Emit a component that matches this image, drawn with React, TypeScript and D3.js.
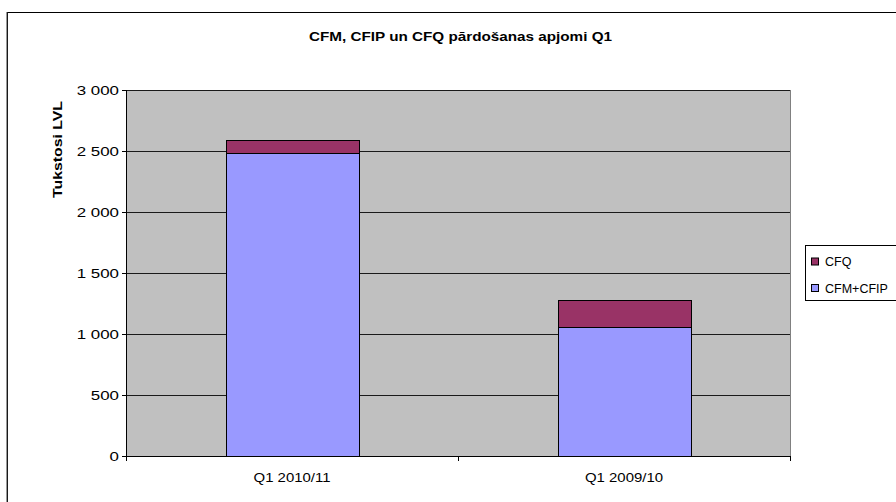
import React from 'react';
import * as d3 from 'd3';

const categories = ['Q1 2010/11', 'Q1 2009/10'];
const cfmCfip = [2485, 1055];
const cfq = [105, 222];
const yTicks = [0, 500, 1000, 1500, 2000, 2500, 3000];
const seriesNames = ['CFM+CFIP', 'CFQ'];
const seriesColors = ['#9999FF', '#993366'];

const width = 896,
    height = 502;
const plot = { left: 126, right: 790, top: 90, bottom: 456 };

const fmt = (v: number) => d3.format(',')(v).replace(/,/g, ' ');

const App = () => {
    const x = d3.scaleBand<string>()
        .domain(categories)
        .range([plot.left, plot.right])
        .paddingInner(0.6)
        .paddingOuter(0.3);

    const y = d3.scaleLinear()
        .domain([0, 3000])
        .range([plot.bottom, plot.top]);

    const rows = categories.map((c, i) => ({ cat: c, 'CFM+CFIP': cfmCfip[i], CFQ: cfq[i] }));
    const stacked = d3.stack<any>().keys(seriesNames)(rows);

    const step = x.step();
    const xTicks = [plot.left, plot.left + step, plot.right];
    const py = (v: number) => Math.round(y(v)) + 0.5;

    return (
        <svg width={width} height={height} style={{ position: 'absolute', left: 0, top: 0 }}
            fontFamily="'Liberation Sans', Arial, sans-serif">
            <rect x={0} y={0} width={width} height={height} fill="#fff" />
            <rect x={7.5} y={12.5} width={width} height={height} fill="none" stroke="#000" strokeWidth={1} />
            <line x1={7} x2={7} y1={12} y2={height} stroke="#333" strokeWidth={1} />
            <text x={460.5} y={41} textAnchor="middle" fontSize={13} fontWeight="bold"
                textLength={303} lengthAdjust="spacingAndGlyphs">
                CFM, CFIP un CFQ pārdošanas apjomi Q1
            </text>

            <rect x={plot.left + 0.5} y={plot.top + 0.5} width={plot.right - plot.left} height={plot.bottom - plot.top}
                fill="#C0C0C0" stroke="#808080" />
            {yTicks.filter(t => t > 0).map(t => (
                <line key={t} x1={plot.left} x2={plot.right} y1={py(t)} y2={py(t)}
                    stroke="#1a1a1a" strokeWidth={1} />
            ))}

            {stacked.map((s, si) => s.map((d, i) => (
                <rect key={si + '-' + i}
                    x={Math.round(x(categories[i])!) + 0.5}
                    y={py(d[1])}
                    width={Math.round(x.bandwidth())}
                    height={Math.round(y(d[0])) - Math.round(y(d[1]))}
                    fill={seriesColors[si]} stroke="#000" strokeWidth={1} />
            )))}

            <line x1={plot.left + 0.5} x2={plot.left + 0.5} y1={plot.top} y2={plot.bottom} stroke="#000" />
            <line x1={plot.left} x2={plot.right + 1} y1={plot.bottom + 0.5} y2={plot.bottom + 0.5} stroke="#000" />
            {yTicks.map(t => (
                <g key={t}>
                    <line x1={plot.left - 4} x2={plot.left} y1={py(t)} y2={py(t)} stroke="#000" />
                    <g transform={`translate(119, ${y(t) + 4.5}) scale(1.3, 1)`}>
                        <text x={0} y={0} textAnchor="end" fontSize={13}>{fmt(t)}</text>
                    </g>
                </g>
            ))}
            {xTicks.map((t, i) => (
                <line key={i} x1={Math.round(t) + 0.5} x2={Math.round(t) + 0.5} y1={plot.bottom} y2={plot.bottom + 5} stroke="#000" />
            ))}
            {categories.map(c => (
                <g key={c} transform={`translate(${x(c)! + x.bandwidth() / 2}, 482) scale(1.15, 1)`}>
                    <text x={0} y={0} textAnchor="middle" fontSize={13}>{c}</text>
                </g>
            ))}

            <text transform={`translate(62,149.5) rotate(-90)`} textAnchor="middle" fontSize={13} fontWeight="bold"
                textLength={97} lengthAdjust="spacingAndGlyphs">
                Tukstosi LVL
            </text>

            <rect x={805.5} y={245.5} width={100} height={55} fill="#fff" stroke="#000" />
            {[1, 0].map((si, k) => (
                <g key={si} transform={`translate(811, ${261.5 + k * 26.5})`}>
                    <rect x={0.5} y={-3.5} width={7} height={7} fill={seriesColors[si]} stroke="#000" />
                    <text x={14} y={4.5} fontSize={12.5}>{seriesNames[si]}</text>
                </g>
            ))}
        </svg>
    );
};

export default App;
